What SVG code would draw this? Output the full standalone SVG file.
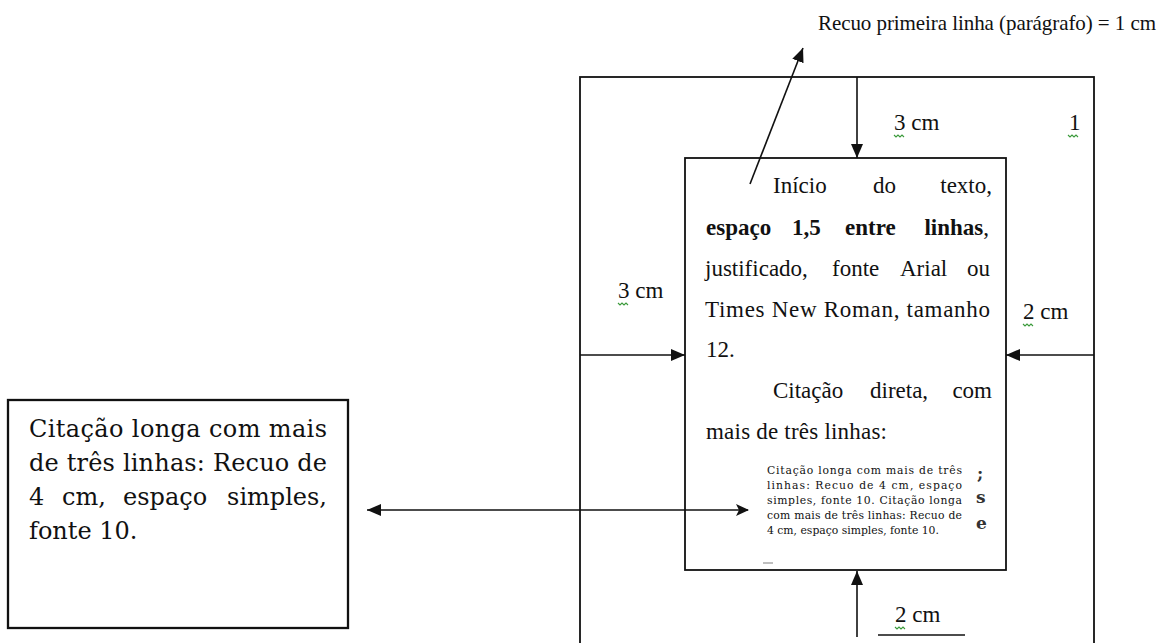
<svg xmlns="http://www.w3.org/2000/svg" width="1167" height="643" viewBox="0 0 1167 643">
  <style>
    .frame { fill: none; stroke: #111; stroke-width: 1.8; }
    .box { fill: #fff; stroke: #111; stroke-width: 1.8; }
    .lbox { fill: #fff; stroke: #111; stroke-width: 2.3; }
    .conn { fill: none; stroke: #111; stroke-width: 1.6; }
    .times { font-family: "Liberation Serif", "Times New Roman", serif; font-size: 23px; fill: #111; }
    .bold { font-weight: bold; }
    .recuo { font-family: "Liberation Serif", "Times New Roman", serif; font-size: 21px; fill: #111; }
    .camb { font-family: "DejaVu Serif", "Liberation Serif", serif; font-size: 24px; fill: #111; }
    .cambs { font-family: "DejaVu Serif", "Liberation Serif", serif; font-size: 10.8px; fill: #111; }
    .frag { font-family: "DejaVu Serif", "Liberation Serif", serif; font-weight: bold; font-size: 17px; fill: #333; }
    .squig { fill: none; stroke: #3a9a3a; stroke-width: 1.1; }
  </style>
  <defs>
    <marker id="arrow" viewBox="0 0 14 12" refX="14" refY="6" markerWidth="14" markerHeight="12" markerUnits="userSpaceOnUse" orient="auto-start-reverse">
      <path d="M0,0 L14,6 L0,12 z" fill="#111"/>
    </marker>
    <marker id="stealth" viewBox="0 0 13 12" refX="12" refY="6" markerWidth="13" markerHeight="12" markerUnits="userSpaceOnUse" orient="auto-start-reverse">
      <path d="M0,0 L13,6 L0,12 L3,6 z" fill="#111"/>
    </marker>
  </defs>

  <rect width="1167" height="643" fill="#fff"/>

  <!-- Outer page frame -->
  <g id="page">
    <rect class="frame" x="580" y="77" width="514" height="600"/>
  </g>

  <!-- Inner text area -->
  <g id="text-area">
    <rect class="box" x="685" y="158" width="321" height="412"/>
    <text class="times" x="773" y="193">Início</text>
    <text class="times" x="873" y="193">do</text>
    <text class="times" x="992" y="193" text-anchor="end">texto,</text>

    <text class="times bold" x="706" y="235">espaço</text>
    <text class="times bold" x="792" y="235">1,5</text>
    <text class="times bold" x="845" y="235">entre</text>
    <text class="times" x="989" y="235" text-anchor="end"><tspan class="bold">linhas</tspan>,</text>

    <text class="times" x="705" y="276">justificado,</text>
    <text class="times" x="832" y="276">fonte</text>
    <text class="times" x="900" y="276">Arial</text>
    <text class="times" x="990" y="276" text-anchor="end">ou</text>

    <text class="times" x="705" y="317" textLength="285" lengthAdjust="spacing">Times New Roman, tamanho</text>
    <text class="times" x="706" y="357">12.</text>

    <text class="times" x="773" y="398">Citação</text>
    <text class="times" x="870" y="398">direta,</text>
    <text class="times" x="992" y="398" text-anchor="end">com</text>
    <text class="times" x="706" y="439" textLength="181" lengthAdjust="spacing">mais de três linhas:</text>

    <!-- long quotation, 4 cm indent -->
    <text class="cambs" x="767" y="474" textLength="195" lengthAdjust="spacing">Citação longa com mais de três</text>
    <text class="cambs" x="767" y="489" textLength="195" lengthAdjust="spacing">linhas: Recuo de 4 cm, espaço</text>
    <text class="cambs" x="767" y="504" textLength="195" lengthAdjust="spacing">simples, fonte 10. Citação longa</text>
    <text class="cambs" x="767" y="519" textLength="195" lengthAdjust="spacing">com mais de três linhas: Recuo de</text>
    <text class="cambs" x="767" y="534">4 cm, espaço simples, fonte 10.</text>

    <text class="frag" x="977" y="479" font-size="9">;</text>
    <text class="frag" x="976" y="503">s</text>
    <text class="frag" x="976" y="529">e</text>
    <line x1="763" y1="563" x2="773" y2="563" stroke="#aaa" stroke-width="1.5"/>
  </g>

  <!-- Left callout box -->
  <g id="callout">
    <rect class="lbox" x="8" y="400" width="340" height="228"/>
    <text class="camb" x="29" y="437" textLength="298" lengthAdjust="spacing">Citação longa com mais</text>
    <text class="camb" x="29" y="471" textLength="298" lengthAdjust="spacing">de três linhas: Recuo de</text>
    <text class="camb" x="29" y="505">4</text>
    <text class="camb" x="62" y="505">cm,</text>
    <text class="camb" x="123" y="505">espaço</text>
    <text class="camb" x="327" y="505" text-anchor="end">simples,</text>
    <text class="camb" x="29" y="539">fonte 10.</text>
  </g>

  <!-- Margin labels -->
  <g id="labels">
    <text class="recuo" x="818" y="30" textLength="338" lengthAdjust="spacing">Recuo primeira linha (parágrafo) = 1 cm</text>
    <text class="times" x="894" y="130">3 cm</text>
    <text class="times" x="1069" y="130">1</text>
    <text class="times" x="618" y="298">3 cm</text>
    <text class="times" x="1023" y="319">2 cm</text>
    <text class="times" x="895" y="622">2 cm</text>
    <path class="squig" d="M894,135 l2,2 l2,-2 l2,2 l2,-2 l2,2"/>
    <path class="squig" d="M1068,135 l2,2 l2,-2 l2,2 l2,-2 l2,2"/>
    <path class="squig" d="M618,303 l2,2 l2,-2 l2,2 l2,-2 l2,2"/>
    <path class="squig" d="M1023,324 l2,2 l2,-2 l2,2 l2,-2 l2,2"/>
    <path class="squig" d="M895,627 l2,2 l2,-2 l2,2 l2,-2 l2,2"/>
  </g>

  <!-- Connectors -->
  <g id="connectors">
    <line class="conn" x1="750" y1="184" x2="803" y2="48" marker-end="url(#arrow)"/>
    <line class="conn" x1="857" y1="77" x2="857" y2="158" marker-end="url(#arrow)"/>
    <line class="conn" x1="580" y1="355" x2="685" y2="355" marker-end="url(#arrow)"/>
    <line class="conn" x1="1094" y1="355" x2="1006" y2="355" marker-end="url(#arrow)"/>
    <line class="conn" x1="857" y1="637" x2="857" y2="571" marker-end="url(#arrow)"/>
    <line class="conn" x1="367" y1="510" x2="748" y2="510" marker-start="url(#arrow)" marker-end="url(#stealth)"/>
    <line class="conn" x1="878" y1="635" x2="965" y2="635"/>
  </g>
</svg>
